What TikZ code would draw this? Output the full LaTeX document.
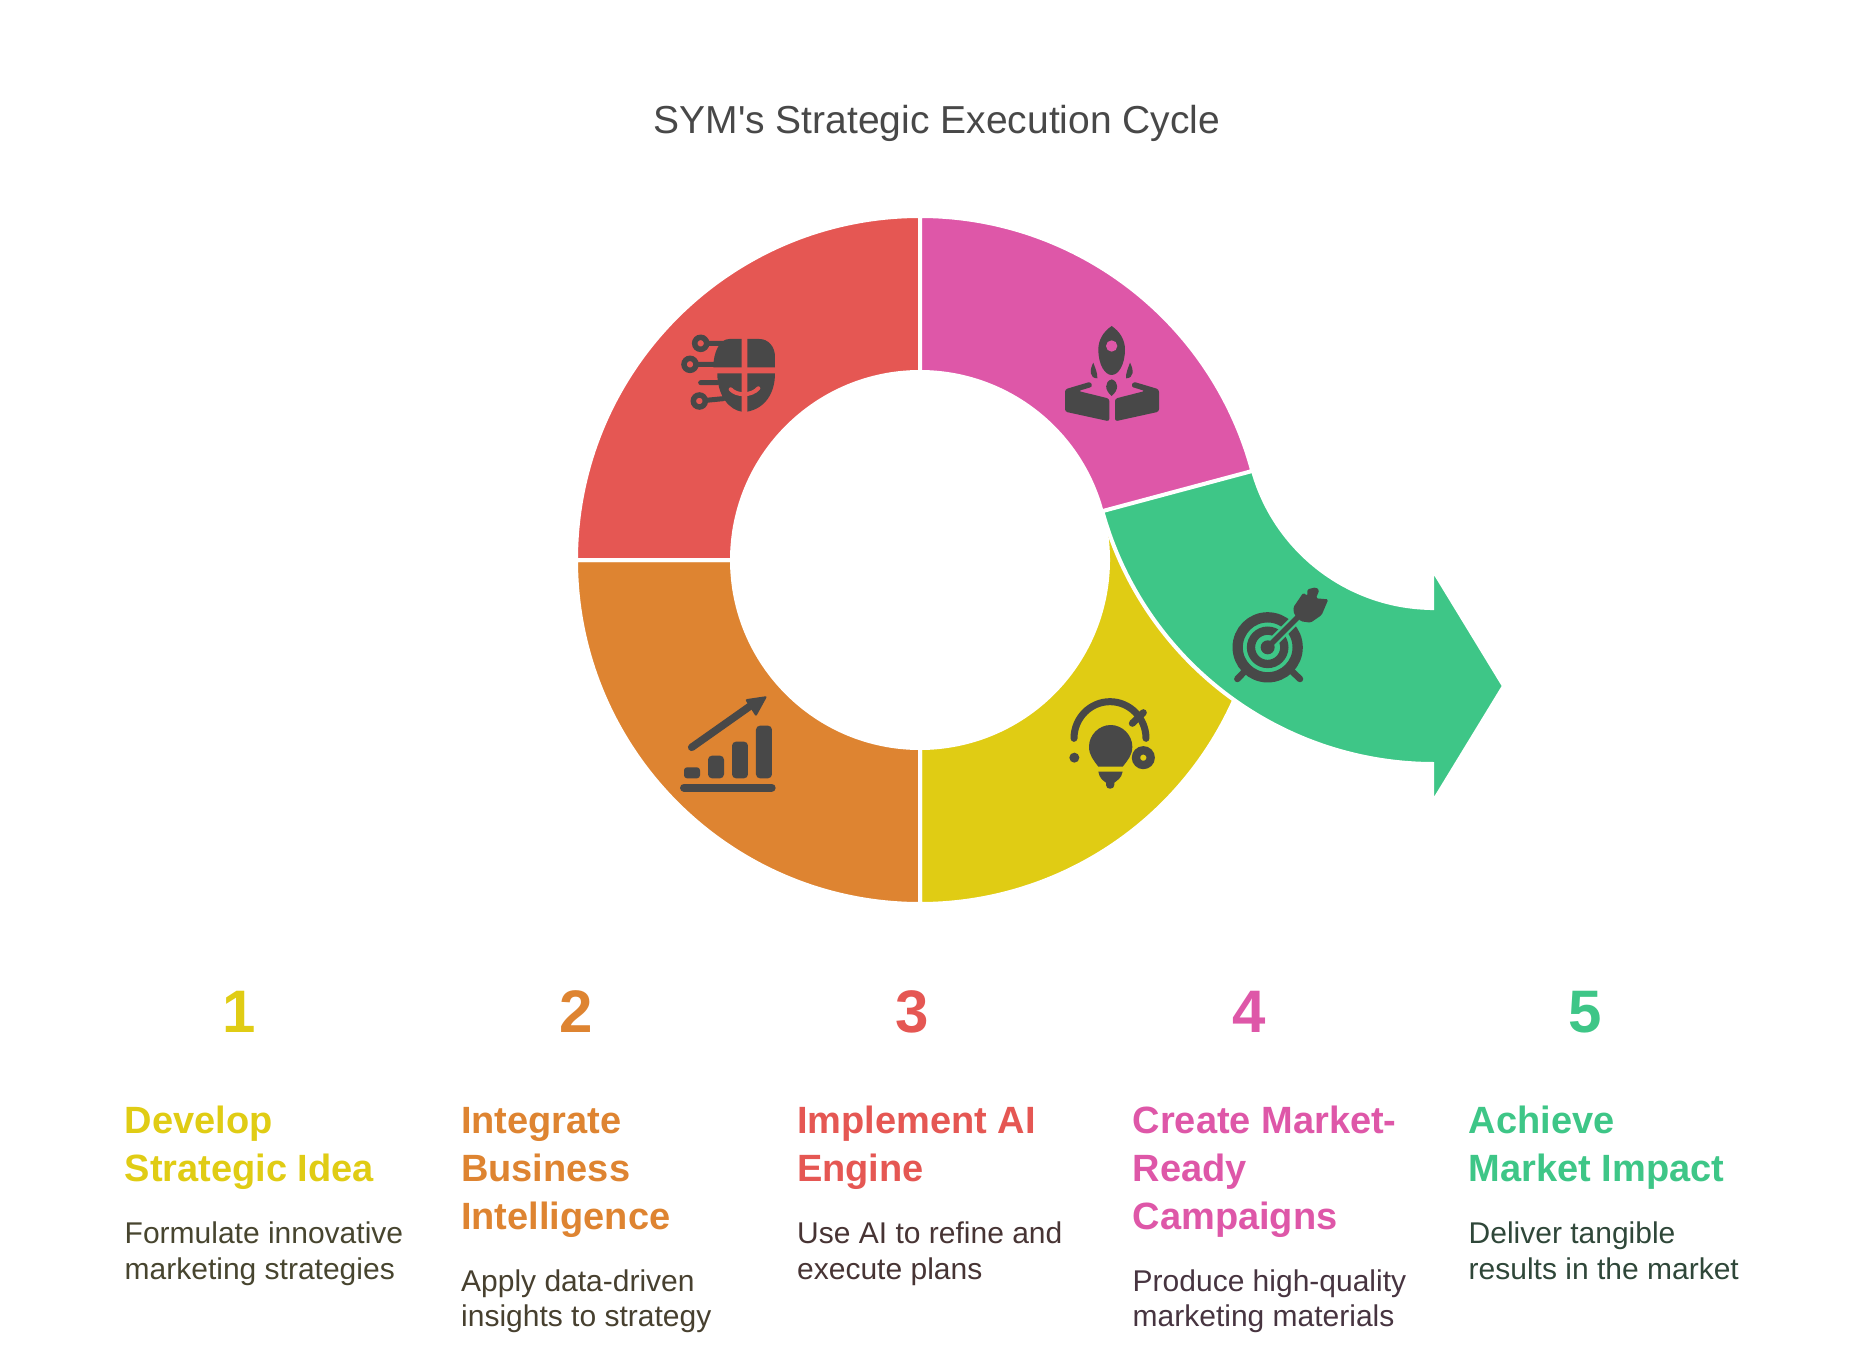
\documentclass[tikz,border=0pt]{standalone}
\usepackage{fontspec}
\setmainfont{Liberation Sans}
\usetikzlibrary{calc}
\definecolor{cyel}{HTML}{E0CC14}
\definecolor{cora}{HTML}{DE8431}
\definecolor{cred}{HTML}{E55753}
\definecolor{cpin}{HTML}{DE57A8}
\definecolor{cgre}{HTML}{3EC687}
\definecolor{cico}{HTML}{484848}
\definecolor{dyel}{HTML}{47452F}
\definecolor{dora}{HTML}{47402F}
\definecolor{dred}{HTML}{473434}
\definecolor{dpin}{HTML}{473440}
\definecolor{dgre}{HTML}{2F4739}
\tikzset{
  seg/.style={draw=white,line width=4pt,line join=miter},
  num/.style={font=\fontsize{60}{60}\selectfont\bfseries,anchor=base},
  head/.style={font=\fontsize{38}{48}\selectfont\bfseries,anchor=base west,inner sep=0pt},
  desc/.style={font=\fontsize{30}{36}\selectfont,anchor=base west,inner sep=0pt},
  ico/.style={fill=cico,draw=none},
}
\begin{document}
\begin{tikzpicture}[x=1pt,y=1pt]
\useasboundingbox (0,-1359) rectangle (1872,0);
\coordinate (c) at (920,-560);
\coordinate (d) at (1434,-420);
% ring
\path[seg,fill=cyel] ($(c)+(270:344)$) arc[start angle=270,end angle=375,radius=344]
   -- ($(c)+(15:188)$) arc[start angle=15,end angle=-90,radius=188] -- cycle;
\path[seg,fill=cora] ($(c)+(180:344)$) arc[start angle=180,end angle=270,radius=344]
   -- ($(c)+(270:188)$) arc[start angle=270,end angle=180,radius=188] -- cycle;
\path[seg,fill=cred] ($(c)+(90:344)$) arc[start angle=90,end angle=180,radius=344]
   -- ($(c)+(180:188)$) arc[start angle=180,end angle=90,radius=188] -- cycle;
\path[seg,fill=cgre] ($(d)+(195:188)$) arc[start angle=195,end angle=270,radius=188]
   -- (1432,-608) -- (1432,-568) -- (1504,-686) -- (1432,-804) -- (1432,-764)
   -- ($(d)+(270:344)$) arc[start angle=270,end angle=195,radius=344] -- cycle;
\path[seg,fill=cpin] ($(c)+(15:344)$) arc[start angle=15,end angle=90,radius=344]
   -- ($(c)+(90:188)$) arc[start angle=90,end angle=15,radius=188] -- cycle;
% brain icon
\begin{scope}[shift={(660,-310)},x=.3333pt,y=-.3333pt]
 \fill[ico] (245,87) -- (208,87) .. controls (180,87) and (160,125) .. (160,172) -- (245,172) -- cycle;
 \fill[ico] (262,87) -- (298,87) .. controls (325,87) and (345,110) .. (345,140) -- (345,172) -- (262,172) -- cycle;
 \fill[ico] (172,190) -- (245,190) -- (245,305) .. controls (210,300) and (172,260) .. (172,190) -- cycle;
 \fill[ico] (262,190) -- (345,190) .. controls (345,250) and (315,295) .. (262,305) -- cycle;
 \draw[cred,line width=4pt,line cap=round] (212,238) .. controls (230,258) and (275,258) .. (295,235);
 \draw[cico,line width=5pt,line cap=round] (122,100) -- (195,100) (90,163) -- (165,163) (122,218) -- (172,218) (118,273) -- (190,266);
 \foreach \p in {(122,100),(90,163),(118,273)} \draw[cico,line width=5.5pt,fill=cred] \p circle[radius=18];
\end{scope}
% rocket icon
\begin{scope}[shift={(1050,-310)},x=.3333pt,y=-.3333pt]
 \fill[ico] (185,48) .. controls (160,65) and (145,90) .. (145,118) .. controls (145,165) and (165,195) .. (185,195) .. controls (205,195) and (225,165) .. (225,118) .. controls (225,90) and (210,65) .. (185,48) -- cycle;
 \fill[cpin] (185,108) circle[radius=17];
 \fill[ico] (130,158) .. controls (118,180) and (118,205) .. (142,205) .. controls (143,190) and (136,175) .. (130,158) -- cycle;
 \fill[ico] (240,158) .. controls (252,180) and (252,205) .. (228,205) .. controls (227,190) and (234,175) .. (240,158) -- cycle;
 \fill[ico] (185,208) .. controls (163,215) and (163,240) .. (185,258) .. controls (207,240) and (207,215) .. (185,208) -- cycle;
 \fill[ico,rounded corners=2.5pt] (45,238) -- (122,215) -- (128,230) -- (85,243) -- (178,266) -- (178,334) -- (45,305) -- cycle;
 \fill[ico,rounded corners=2.5pt] (327,238) -- (250,215) -- (243,230) -- (285,243) -- (195,266) -- (195,334) -- (327,305) -- cycle;
\end{scope}
% target icon
\begin{scope}[shift={(1220,-570)},x=.3333pt,y=-.3333pt]
 \draw[cico,line width=10.3pt] (143,232) circle[radius=90];
 \draw[cico,line width=8.3pt] (143,232) circle[radius=50];
 \fill[cico] (143,232) circle[radius=21];
 \draw[cgre,line width=10pt] (160,215) -- (225,150);
 \draw[cico,line width=5.5pt,line cap=round] (143,232) -- (245,130);
 \fill[ico,rounded corners=1.5pt] (220,112) -- (250,68) -- (262,78) -- (262,58) -- (287,52) -- (298,60) -- (288,85) -- (325,88) -- (305,135) -- (272,158) -- (243,154) -- (222,132) -- cycle;
 \draw[cico,line width=6.5pt,line cap=round] (52,327) -- (75,303) (240,327) -- (215,303);
\end{scope}
% bulb icon
\begin{scope}[shift={(1060,-690)},x=.3333pt,y=-.3333pt]
 \draw[cico,line width=7pt,line cap=round] (42,145) .. controls (42,85) and (90,35) .. (150,35) .. controls (210,35) and (258,85) .. (258,145);
 \draw[cico,line width=7pt,line cap=round] (217,100) -- (250,68);
 \fill[cico] (43,203) circle[radius=15];
 \draw[cico,line width=8.3pt] (250,203) circle[radius=22];
 \fill[ico] (115,230) .. controls (100,210) and (87,195) .. (87,170) .. controls (87,135) and (117,105) .. (152,105) .. controls (187,105) and (217,135) .. (217,170) .. controls (217,195) and (204,210) .. (188,230) -- cycle;
 \fill[ico] (115,245) -- (188,245) .. controls (185,265) and (170,272) .. (163,278) -- (163,285) .. controls (163,300) and (138,300) .. (138,285) -- (138,278) .. controls (130,272) and (118,265) .. (115,245) -- cycle;
\end{scope}
% chart icon
\begin{scope}[shift={(670,-690)},x=.3333pt,y=-.3333pt]
 \fill[ico,rounded corners=3pt] (42,265) -- (42,232) -- (90,232) -- (90,265) -- cycle;
 \fill[ico,rounded corners=4pt] (114,265) -- (114,197) -- (162,197) -- (162,265) -- cycle;
 \fill[ico,rounded corners=4pt] (186,265) -- (186,155) -- (234,155) -- (234,265) -- cycle;
 \fill[ico,rounded corners=4pt] (258,265) -- (258,107) -- (306,107) -- (306,265) -- cycle;
 \draw[cico,line width=8pt,line cap=round] (42,293) -- (305,293);
 \draw[cico,line width=7.5pt,line cap=round] (65,172) -- (245,45);
 \fill[ico,rounded corners=2pt] (225,28) -- (292,18) -- (258,80) -- cycle;
\end{scope}
% title
\node[font=\fontsize{39}{39}\selectfont,text=cico,anchor=base] (title) at (937,-134) {SYM\textquotesingle s Strategic Execution Cycle};
% numbers
\node[num,text=cyel] (n1) at (239,-1032.7) {1};
\node[num,text=cora] (n2) at (576,-1032.7) {2};
\node[num,text=cred] (n3) at (912,-1032.7) {3};
\node[num,text=cpin] (n4) at (1249,-1032.7) {4};
\node[num,text=cgre] (n5) at (1585,-1032.7) {5};
% headings
\node[head,text=cyel] (h1a) at (124.5,-1133) {Develop};
\node[head,text=cyel] (h1b) at (124.5,-1181.3) {Strategic Idea};
\node[head,text=cora] (h2a) at (461,-1133) {Integrate};
\node[head,text=cora] (h2b) at (461,-1181.3) {Business};
\node[head,text=cora] (h2c) at (461,-1229.3) {Intelligence};
\node[head,text=cred] (h3a) at (797,-1133) {Implement AI};
\node[head,text=cred] (h3b) at (797,-1181.3) {Engine};
\node[head,text=cpin] (h4a) at (1132.5,-1133) {Create Market-};
\node[head,text=cpin] (h4b) at (1132.5,-1181.3) {Ready};
\node[head,text=cpin] (h4c) at (1132.5,-1229.3) {Campaigns};
\node[head,text=cgre] (h5a) at (1468.5,-1133) {Achieve};
\node[head,text=cgre] (h5b) at (1468.5,-1181.3) {Market Impact};
% descriptions
\node[desc,text=dyel] (d1a) at (124.5,-1243.3) {Formulate innovative};
\node[desc,text=dyel] (d1b) at (124.5,-1279.1) {marketing strategies};
\node[desc,text=dora] (d2a) at (461,-1291.1) {Apply data-driven};
\node[desc,text=dora] (d2b) at (461,-1326.9) {insights to strategy};
\node[desc,text=dred] (d3a) at (797,-1243.3) {Use AI to refine and};
\node[desc,text=dred] (d3b) at (797,-1279.1) {execute plans};
\node[desc,text=dpin] (d4a) at (1132.5,-1291.1) {Produce high-quality};
\node[desc,text=dpin] (d4b) at (1132.5,-1326.9) {marketing materials};
\node[desc,text=dgre] (d5a) at (1468.5,-1243.3) {Deliver tangible};
\node[desc,text=dgre] (d5b) at (1468.5,-1279.1) {results in the market};
\end{tikzpicture}
\end{document}
